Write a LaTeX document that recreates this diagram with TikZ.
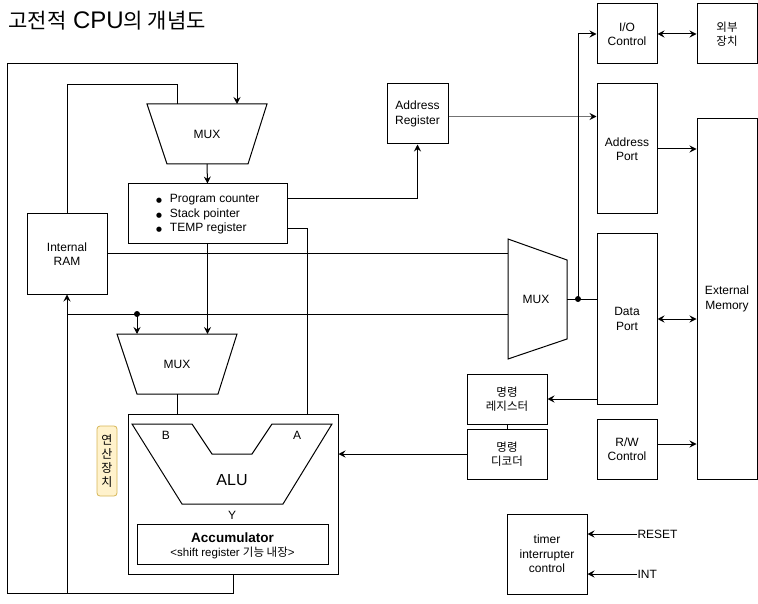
\documentclass[tikz,border=0pt]{standalone}
\usepackage{fontspec}
\setmainfont{Liberation Sans}
\newfontfamily\kr{Noto Sans CJK KR}
\newfontfamily\dejavu{DejaVu Sans}
\usetikzlibrary{arrows.meta}
\begin{document}
\begin{tikzpicture}[x=1pt,y=-1pt, line width=1pt,
  box/.style={draw, inner sep=0pt, align=center, font=\fontsize{12}{14.5}\selectfont},
  kbox/.style={box, font=\kr\fontsize{11.5}{14.5}\selectfont},
  arr/.style={-{Stealth[length=7pt,width=7pt,inset=2.5pt]}},
  darr/.style={{Stealth[length=7pt,width=7pt,inset=2.5pt]}-{Stealth[length=7pt,width=7pt,inset=2.5pt]}},
  lbl/.style={inner sep=0pt, align=center, font=\fontsize{12}{14.5}\selectfont},
  dotn/.style={circle, fill, inner sep=0pt, minimum size=6pt},
  opbox/.style={draw=opborder, fill=opfill, rounded corners=3pt, line width=0.8pt, inner sep=0pt}]
\definecolor{opfill}{HTML}{FFF2CC}
\definecolor{opborder}{HTML}{D6B656}
\useasboundingbox (0,0) rectangle (758,604);

% title
\node[inner sep=0pt, anchor=west, font=\fontsize{24}{26}\selectfont] (title) at (8,21) {{\kr\fontsize{21}{26}\selectfont 고전적} CPU{\kr\fontsize{21}{26}\selectfont 의 개념도}};

% top MUX
\draw (147,104) -- (267,104) -- (248,164) -- (167,164) -- cycle;
\node[lbl] (muxT) at (207,134) {MUX};
\coordinate (muxTinA) at (237,104);
\coordinate (muxTinB) at (177,104);
\coordinate (muxTout) at (207,164);

% register box
\newcommand{\blt}{{\dejavu\fontsize{6.8}{8}\selectfont ●}}
\node[box, minimum width=159pt, minimum height=60pt] (reg) at (207.5,214) {};
\node[lbl, anchor=west, align=left] (regtxt) at (155.5,214.5) {\blt\hspace{8pt}Program counter\\\blt\hspace{8pt}Stack pointer\\\blt\hspace{8pt}TEMP register};

% internal RAM
\node[box, minimum width=80pt, minimum height=80pt] (iram) at (67,254) {Internal\\RAM};

% lower MUX
\draw (117,334) -- (237,334) -- (218,394) -- (137,394) -- cycle;
\node[lbl] (muxL) at (177,364) {MUX};
\coordinate (muxLin) at (177,334);
\coordinate (muxLout) at (177,394);

% ALU block
\node[box, minimum width=210pt, minimum height=160pt] (alubox) at (233,494) {};
\draw (132,424) -- (192,424) -- (212,454) -- (252,454) -- (272,424) -- (332,424) -- (283,504) -- (182,504) -- cycle;
\node[lbl] (lb) at (166,435) {B};
\node[lbl] (la) at (297,435) {A};
\node[lbl, font=\fontsize{16}{18}\selectfont] (alu) at (232,480) {ALU};
\node[lbl] (ly) at (232,515) {Y};
\node[box, minimum width=191pt, minimum height=40pt] (acc) at (232.5,544) {};
\node[lbl, font=\bfseries\fontsize{13.5}{15}\selectfont] (acct) at (232.5,538) {Accumulator};
\node[lbl, font=\fontsize{11.5}{13}\selectfont] (accs) at (232.5,553) {<shift register {\kr 기능 내장}>};
\coordinate (aluA) at (307,414);

% 연산장치 label
\node[opbox, minimum width=20pt, minimum height=70pt] (op) at (107,461) {};
\node[lbl, font=\kr\fontsize{12}{14.3}\selectfont] (opt) at (107,461) {연\\산\\장\\치};

% address register
\node[box, minimum width=61pt, minimum height=60pt] (areg) at (417.5,114) {Address\\Register};

% right column
\node[box, minimum width=60pt, minimum height=60pt] (ioc) at (627,34) {I/O\\Control};
\node[kbox, minimum width=60pt, minimum height=60pt] (ext) at (727,34) {외부\\장치};
\node[box, minimum width=60pt, minimum height=130pt] (aport) at (627,149) {Address\\Port};
\node[box, minimum width=60pt, minimum height=360pt] (emem) at (727,299) {External\\Memory};
\node[box, minimum width=60pt, minimum height=170pt] (dport) at (627,319) {Data\\Port};
\node[box, minimum width=60pt, minimum height=60pt] (rw) at (627,449) {R/W\\Control};

% right MUX
\draw (508,239) -- (567,260) -- (567,339) -- (508,359) -- cycle;
\node[lbl] (muxR) at (536,299) {MUX};
\coordinate (muxRin) at (508,299);
\coordinate (muxRout) at (567,299);

% instruction register / decoder
\node[kbox, minimum width=80pt, minimum height=50pt] (ireg) at (507,399) {명령\\레지스터};
\node[kbox, minimum width=80pt, minimum height=50pt] (idec) at (507,454) {명령\\디코더};

% timer
\node[box, minimum width=80pt, minimum height=80pt] (tmr) at (547,554) {timer\\interrupter\\control};
\node[lbl, anchor=west] (rst) at (637,534) {RESET};
\node[lbl, anchor=west] (int) at (637,574) {INT};

% ---- connectors ----
\coordinate (bl) at (7,593);
\coordinate (tl) at (7,64);
\coordinate (t2) at (67,85);
\coordinate (j2) at (67,314);
\draw[arr] (alubox.south) |- (bl) -- (tl) -| (muxTinA);
\draw[arr] (iram.south |- bl) -- (iram.south);
\draw (iram.north) -- (t2) -| (muxTinB);
\draw[arr] (muxTout) -- (reg.north);
\draw[arr] ([yshift=15pt]reg.east) -| (areg.south);
\draw[-{Stealth[length=7pt,width=7pt,inset=2.5pt,color=black]}, draw=black!55, line width=1.8pt] ([yshift=-2.5pt]areg.east) -- ([yshift=-2.5pt]areg.east -| aport.west);
\draw[arr] (aport.east) -- (aport.east -| emem.west);
\draw[darr] (ioc.east) -- (ext.west);
\node[dotn] (d1) at (578,299) {};
\draw (muxRout) -- (muxRout -| dport.west);
\draw[arr] (d1.center) |- (ioc.west);
\draw[darr] (dport.east) -- (dport.east -| emem.west);
\draw[arr] (dport.west |- ireg.east) -- (ireg.east);
\draw (ireg.south) -- (idec.north);
\draw[arr] (idec.west) -- (idec.west -| alubox.east);
\draw[arr] ([yshift=5pt]rw.east) -- ([yshift=5pt]rw.east -| emem.west);
\draw[arr] (rst.west) -- (rst.west -| tmr.east);
\draw[arr] (int.west) -- (int.west -| tmr.east);
\draw (iram.east) -- (iram.east -| muxRin);
\draw (j2) -- (j2 -| muxRin);
\node[dotn] (d2) at (137,314) {};
\draw[arr] (d2.center) -- (d2 |- muxLin);
\draw[arr] (reg.south) -- (reg.south |- muxLin);
\draw ([yshift=-15pt]reg.east) -| (aluA);
\draw (muxLout) -- (muxLout |- alubox.north);
\end{tikzpicture}
\end{document}
